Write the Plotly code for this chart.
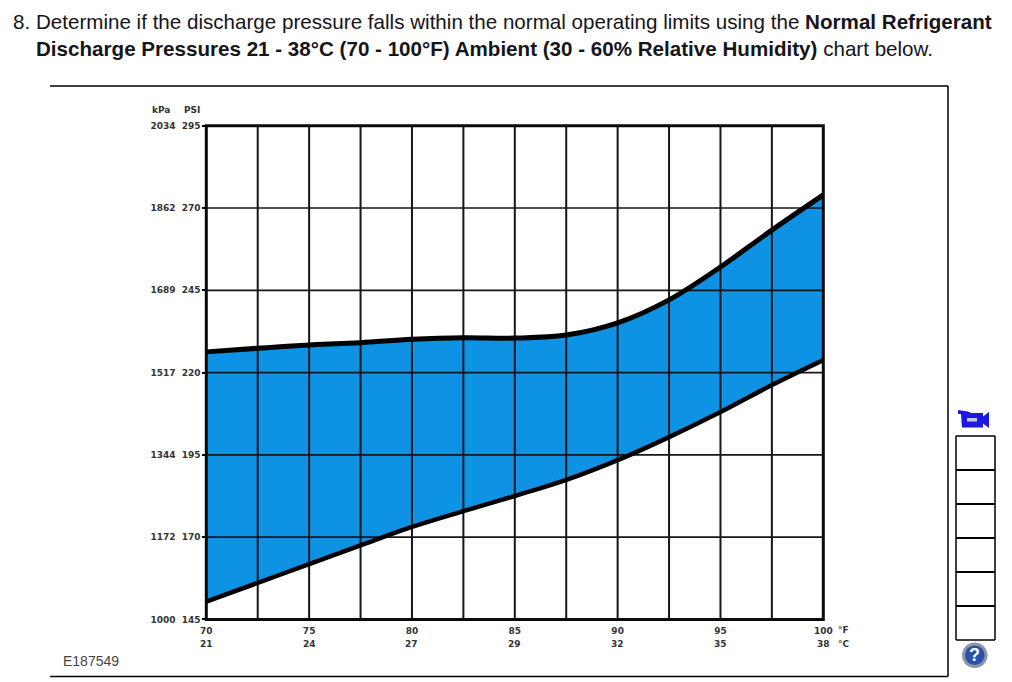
import plotly.graph_objects as go

# Ambient temperature stations along the curves (degrees F)
temp_f = [70, 72.5, 75, 77.5, 80, 82.5, 85, 87.5, 90, 92.5, 95, 97.5, 100]
# Upper and lower limits of normal discharge pressure (PSI)
upper_psi = [226.3, 227.4, 228.4, 229.1, 230.1, 230.6, 230.5, 231.4, 235.1, 242.1, 252.1, 263.3, 274.0]
lower_psi = [150.4, 156.1, 161.8, 167.5, 173.1, 177.9, 182.5, 187.4, 193.4, 200.4, 208.0, 216.2, 223.8]

psi_ticks = [145, 170, 195, 220, 245, 270, 295]
kpa_labels = ["1000", "1172", "1344", "1517", "1689", "1862", "2034"]
f_ticks = [70, 75, 80, 85, 90, 95, 100]
c_labels = ["21", "24", "27", "29", "32", "35", "38"]

line_one_plain = "8. Determine if the discharge pressure falls within the normal operating limits using the "
line_one_bold = "Normal Refrigerant"
line_two_bold = "Discharge Pressures 21 - 38°C (70 - 100°F) Ambient (30 - 60% Relative Humidity)"
line_two_plain = " chart below."

WIDTH, HEIGHT = 1012, 682
PLOT_LEFT, PLOT_RIGHT, PLOT_TOP, PLOT_BOTTOM = 206.3, 823.3, 125.8, 619.4
FILL = "#0d92e4"
INK = "#15151c"
LABEL_FONT = dict(family="DejaVu Sans", size=9, color="#333333")


def px(x):
    return x / WIDTH


def py(y):
    return 1 - y / HEIGHT


def rule(x0, y0, x1, y1, width=1.5, color="#000000"):
    return dict(type="line", xref="paper", yref="paper", x0=px(x0), y0=py(y0), x1=px(x1), y1=py(y1),
                line=dict(color=color, width=width))


def polygon(points, color):
    path = "M " + " L ".join(f"{px(x)} {py(y)}" for x, y in points) + " Z"
    return dict(type="path", xref="paper", yref="paper", path=path, fillcolor=color, line=dict(width=0))


fig = go.Figure()

# Band between the two limits, laid down first so the grid shows through on top
spline = dict(shape="spline", smoothing=1.0)
fig.add_trace(go.Scatter(x=temp_f, y=lower_psi, mode="lines", line=dict(width=0, **spline), hoverinfo="skip"))
fig.add_trace(go.Scatter(x=temp_f, y=upper_psi, mode="lines", line=dict(width=0, **spline),
                         fill="tonexty", fillcolor=FILL, hoverinfo="skip"))

# Grid: every 2.5 degrees across, every 25 PSI up
vert_x, vert_y = [], []
for t in temp_f[1:-1]:
    vert_x += [t, t, None]
    vert_y += [psi_ticks[0], psi_ticks[-1], None]
horiz_x, horiz_y = [], []
for p in psi_ticks[1:-1]:
    horiz_x += [temp_f[0], temp_f[-1], None]
    horiz_y += [p, p, None]
fig.add_trace(go.Scatter(x=vert_x, y=vert_y, mode="lines", line=dict(color=INK, width=2), hoverinfo="skip"))
fig.add_trace(go.Scatter(x=horiz_x, y=horiz_y, mode="lines", line=dict(color=INK, width=1.6), hoverinfo="skip"))

# Limit curves
fig.add_trace(go.Scatter(x=temp_f, y=upper_psi, mode="lines", line=dict(color="#000000", width=5, **spline), hoverinfo="skip"))
fig.add_trace(go.Scatter(x=temp_f, y=lower_psi, mode="lines", line=dict(color="#000000", width=4.5, **spline), hoverinfo="skip"))

shapes = [
    # Plot border, centred on the axis limits
    dict(type="rect", xref="paper", yref="paper", x0=px(PLOT_LEFT), x1=px(PLOT_RIGHT), y0=py(PLOT_BOTTOM), y1=py(PLOT_TOP),
         line=dict(color="#0a0a0a", width=3), fillcolor="rgba(0,0,0,0)", layer="above"),
    # Surrounding frame, open on the left
    rule(50, 86, 948, 86),
    rule(948, 86, 948, 676.5),
    rule(50, 676.5, 948, 676.5),
]

# Column of empty boxes at the right edge
box_rows = [436, 470, 504, 538, 572, 606, 640]
for row in box_rows:
    shapes.append(rule(956, row, 995, row, width=2 if row in box_rows[1:-1] else 1.5))
shapes.append(rule(956, 436, 956, 640))
shapes.append(rule(995, 436, 995, 640))

# Video camera icon
shapes.append(polygon([(958, 410), (968, 411.5), (971, 413), (983, 413), (983, 416.5), (989, 412),
                       (989, 428), (983, 423.5), (983, 427.5), (962, 427.5), (961, 414), (958, 414)], "#1c18e0"))
shapes.append(dict(type="rect", xref="paper", yref="paper", x0=px(967), x1=px(977), y0=py(418), y1=py(421.5),
                   fillcolor="#c9c6f6", line=dict(width=0)))

# Help icon
shapes.append(dict(type="circle", xref="paper", yref="paper", x0=px(962), x1=px(987.5), y0=py(642.5), y1=py(668),
                   fillcolor="#8d96a3", line=dict(width=0)))
shapes.append(dict(type="circle", xref="paper", yref="paper", x0=px(965), x1=px(984.5), y0=py(645.5), y1=py(665),
                   fillcolor="#2b4fae", line=dict(width=0)))


def note(text, x, y, anchor="left", font=None):
    return dict(text=text, xref="paper", yref="paper", x=px(x), y=py(y), xanchor=anchor, yanchor="middle",
                showarrow=False, font=font or LABEL_FONT, align=anchor)


heading = dict(family="Liberation Sans", size=20.6, color="#15151a")
annotations = [
    note(line_one_plain + "<b>" + line_one_bold + "</b>", 11, 22, font=heading),
    note("<b>" + line_two_bold + "</b>" + line_two_plain, 34, 48, font=heading),
    note("<b>kPa</b>", 150, 110),
    note("<b>PSI</b>", 182, 110),
    note("<b>°F</b>", 836, 630),
    note("<b>°C</b>", 836, 644),
    note("E187549", 61, 661, font=dict(family="Liberation Sans", size=14, color="#444444")),
    note("<b>?</b>", 974.8, 655.3, anchor="center", font=dict(family="Liberation Sans", size=18, color="#ffffff")),
]

# Celsius row sits under the Fahrenheit tick labels
for f, c in zip(f_ticks, c_labels):
    annotations.append(dict(text=f"<b>{c}</b>", xref="x", yref="paper", x=f, y=py(644), xanchor="center",
                            yanchor="middle", showarrow=False, font=LABEL_FONT))

fig.update_layout(
    width=WIDTH,
    height=HEIGHT,
    margin=dict(l=0, r=0, t=0, b=0, autoexpand=False),
    paper_bgcolor="#ffffff",
    plot_bgcolor="#ffffff",
    showlegend=False,
    shapes=shapes,
    annotations=annotations,
    xaxis=dict(
        domain=[px(PLOT_LEFT), px(PLOT_RIGHT)],
        range=[temp_f[0], temp_f[-1]],
        tickmode="array",
        tickvals=f_ticks,
        ticktext=[f"<b>{f}</b>" for f in f_ticks],
        ticks="",
        ticklabelstandoff=5,
        tickfont=LABEL_FONT,
        showgrid=False,
        zeroline=False,
        showline=False,
        tickangle=0,
    ),
    yaxis=dict(
        domain=[py(PLOT_BOTTOM), py(PLOT_TOP)],
        range=[psi_ticks[0], psi_ticks[-1]],
        tickmode="array",
        tickvals=psi_ticks,
        ticktext=[f"<b>{k}  {p}</b>" for k, p in zip(kpa_labels, psi_ticks)],
        ticks="outside",
        ticklen=3,
        tickwidth=1.5,
        tickcolor="#000000",
        tickfont=LABEL_FONT,
        showgrid=False,
        zeroline=False,
        showline=False,
    ),
)

fig.write_html("out.html", config=dict(displayModeBar=False))
